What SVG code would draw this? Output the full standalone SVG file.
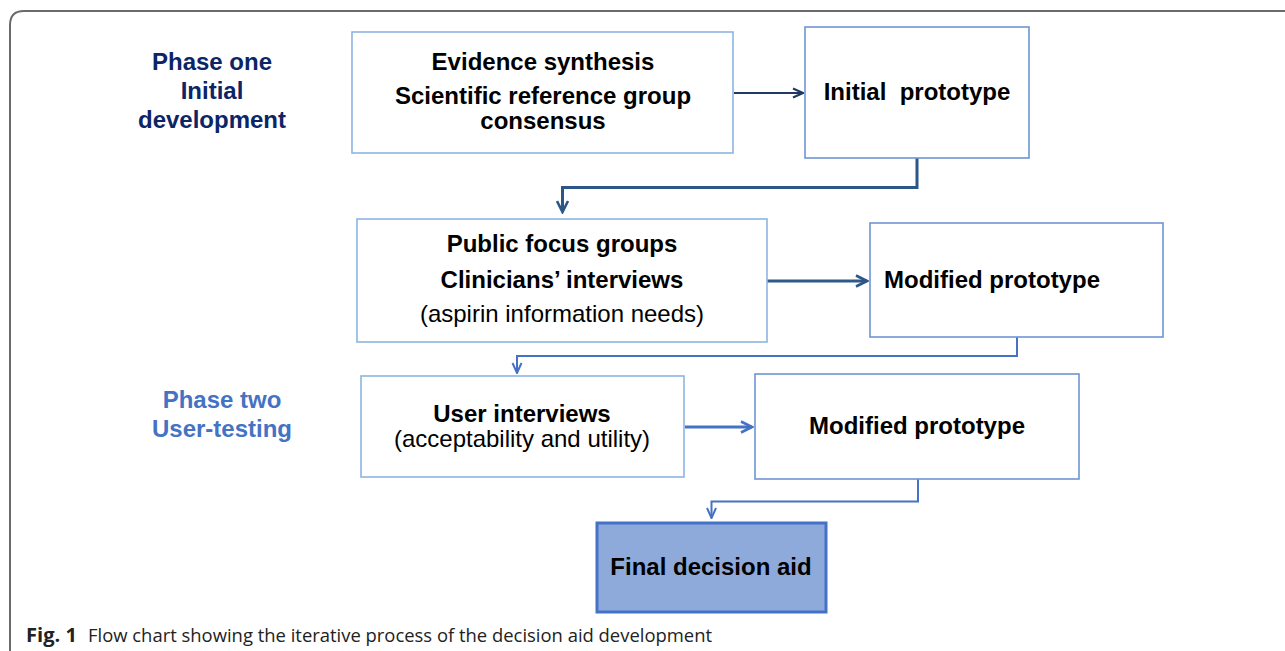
<svg xmlns="http://www.w3.org/2000/svg" width="1285" height="651" viewBox="0 0 1285 651">
<style>
.frame{fill:none;stroke:#6b6b6b;stroke-width:2}
.bl{fill:#fff;stroke:#8db4e2;stroke-width:1.6}
.bd{fill:#fff;stroke:#6f95d4;stroke-width:1.6}
.fin{fill:#8eaadb;stroke:#4472c4;stroke-width:3}
.t{font-family:"Liberation Sans",Arial,sans-serif;font-size:24px;fill:#000;text-anchor:middle}
.b{font-weight:bold}
.p1{font-family:"Liberation Sans",Arial,sans-serif;font-size:24px;font-weight:bold;fill:#0b2566;text-anchor:middle}
.p2{font-family:"Liberation Sans",Arial,sans-serif;font-size:24px;font-weight:bold;fill:#4472c4;text-anchor:middle}
.cap{font-family:"Open Sans","Noto Sans",sans-serif;font-size:19px;fill:#222}
.c{fill:none;stroke-linejoin:miter}
</style>
<defs>
<marker id="mNavy" viewBox="0 0 12 12" markerWidth="12" markerHeight="12" refX="11" refY="6" orient="auto" markerUnits="userSpaceOnUse"><path d="M1,1.5 L11,6 L1,10.5" fill="none" stroke="#1f3864" stroke-width="2"/></marker>
<marker id="mSteel" viewBox="0 0 14 14" markerWidth="14" markerHeight="14" refX="12.5" refY="7" orient="auto" markerUnits="userSpaceOnUse"><path d="M1.5,1.5 L12.5,7 L1.5,12.5" fill="none" stroke="#2c5687" stroke-width="2.6"/></marker>
<marker id="mBlue" viewBox="0 0 14 14" markerWidth="14" markerHeight="14" refX="12.5" refY="7" orient="auto" markerUnits="userSpaceOnUse"><path d="M1.5,1.5 L12.5,7 L1.5,12.5" fill="none" stroke="#4472c4" stroke-width="2.6"/></marker>
<marker id="mBlueS" viewBox="0 0 12 12" markerWidth="12" markerHeight="12" refX="11" refY="6" orient="auto" markerUnits="userSpaceOnUse"><path d="M1,1.5 L11,6 L1,10.5" fill="none" stroke="#4472c4" stroke-width="2"/></marker>
</defs>
<rect width="1285" height="651" fill="#fff"/>
<path class="frame" d="M1295,11 L24,11 Q10,11 10,25 L10,660"/>

<g id="phase-one">
<text class="p1" x="212" y="70">Phase one</text>
<text class="p1" x="212" y="99">Initial</text>
<text class="p1" x="212" y="128">development</text>
</g>
<g id="phase-two">
<text class="p2" x="222" y="408">Phase two</text>
<text class="p2" x="222" y="437">User-testing</text>
</g>

<g id="connectors">
<line class="c" x1="734" y1="93" x2="803" y2="93" stroke="#1f3864" stroke-width="2" marker-end="url(#mNavy)"/>
<path class="c" d="M917,158 L917,187.5 L562.5,187.5 L562.5,212" stroke="#2c5687" stroke-width="3" marker-end="url(#mSteel)"/>
<line class="c" x1="767" y1="281" x2="867" y2="281" stroke="#2e5a87" stroke-width="3" marker-end="url(#mSteel)"/>
<path class="c" d="M1017,337 L1017,356 L517,356 L517,373" stroke="#4472c4" stroke-width="2" marker-end="url(#mBlueS)"/>
<line class="c" x1="685" y1="427" x2="752" y2="427" stroke="#4472c4" stroke-width="3" marker-end="url(#mBlue)"/>
<path class="c" d="M918,479 L918,501.5 L711.5,501.5 L711.5,518" stroke="#4472c4" stroke-width="2" marker-end="url(#mBlueS)"/>
</g>

<g id="evidence">
<rect class="bl" x="352" y="32" width="381" height="121"/>
<text class="t b" x="543" y="70">Evidence synthesis</text>
<text class="t b" x="543" y="104">Scientific reference group</text>
<text class="t b" x="543" y="129">consensus</text>
</g>
<g id="initial-prototype">
<rect class="bd" x="805" y="27" width="224" height="131"/>
<text class="t b" x="917" y="100" xml:space="preserve">Initial  prototype</text>
</g>
<g id="focus-groups">
<rect class="bl" x="357" y="219" width="410" height="123"/>
<text class="t b" x="562" y="252">Public focus groups</text>
<text class="t b" x="562" y="288">Clinicians’ interviews</text>
<text class="t" x="562" y="322">(aspirin information needs)</text>
</g>
<g id="modified-prototype-1">
<rect class="bd" x="870" y="223" width="293" height="114"/>
<text class="t b" x="884" y="288" style="text-anchor:start">Modified prototype</text>
</g>
<g id="user-interviews">
<rect class="bl" x="361" y="376" width="323" height="101"/>
<text class="t b" x="522" y="422">User interviews</text>
<text class="t" x="522" y="447">(acceptability and utility)</text>
</g>
<g id="modified-prototype-2">
<rect class="bd" x="755" y="374" width="324" height="105"/>
<text class="t b" x="917" y="434">Modified prototype</text>
</g>
<g id="final-decision-aid">
<rect class="fin" x="597" y="523" width="229" height="89"/>
<text class="t b" x="711" y="575">Final decision aid</text>
</g>

<g id="caption">
<text class="cap" x="26" y="642" font-weight="bold" textLength="51" lengthAdjust="spacingAndGlyphs">Fig. 1</text>
<text class="cap" x="88" y="642" textLength="624" lengthAdjust="spacingAndGlyphs">Flow chart showing the iterative process of the decision aid development</text>
</g>
</svg>
